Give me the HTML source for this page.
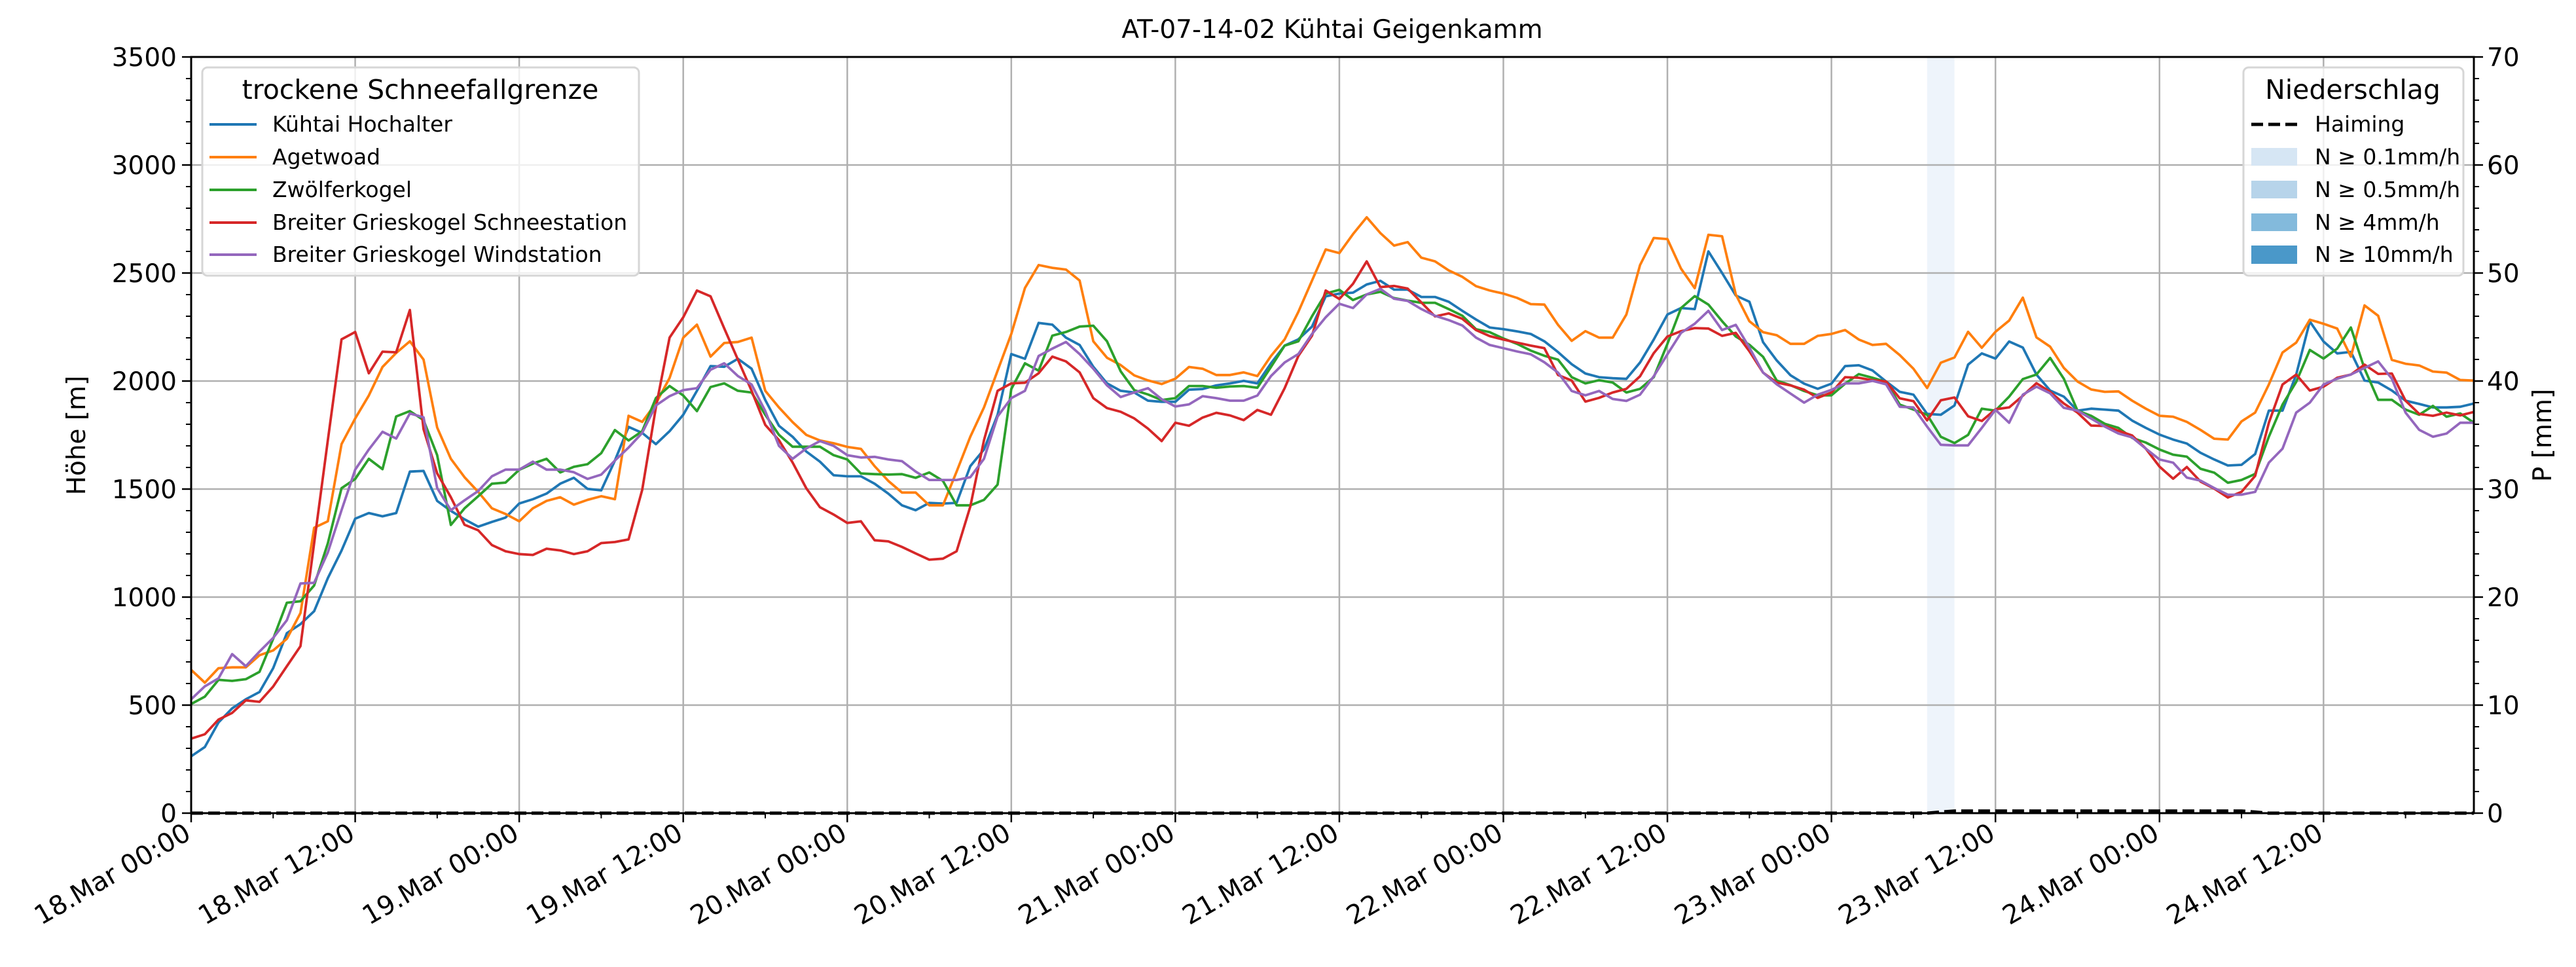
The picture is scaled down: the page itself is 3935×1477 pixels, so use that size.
<!DOCTYPE html>
<html><head><meta charset="utf-8"><style>
html,body{margin:0;padding:0;background:#fff;}
svg{display:block;font-family:"DejaVu Sans","Liberation Sans",sans-serif;}
</style></head><body>
<svg id="chart" width="3935" height="1477" viewBox="0 0 3935 1477" xmlns="http://www.w3.org/2000/svg">
<rect width="3935" height="1477" fill="#fff"/>
<g id="bands"></g>
<g id="grid"></g>
<g id="series"></g>
<g id="axes"></g>
<text x="2035" y="58" font-size="39" text-anchor="middle">AT-07-14-02 Kühtai Geigenkamm</text>
<text transform="translate(130,665) rotate(-90)" font-size="39" text-anchor="middle">Höhe [m]</text>
<text transform="translate(3897,665) rotate(-90)" font-size="39" text-anchor="middle">P [mm]</text>
<g>
<rect x="309" y="103" width="667" height="318" rx="8" fill="#fff" fill-opacity="0.8" stroke="#d6d6d6" stroke-width="3"/>
<text x="642" y="151" font-size="41" text-anchor="middle">trockene Schneefallgrenze</text>
<g><line x1="320" y1="190" x2="392" y2="190" stroke="#1f77b4" stroke-width="4"/><text x="416" y="201" font-size="33">Kühtai Hochalter</text></g>
<g><line x1="320" y1="240" x2="392" y2="240" stroke="#ff7f0e" stroke-width="4"/><text x="416" y="251" font-size="33">Agetwoad</text></g>
<g><line x1="320" y1="290" x2="392" y2="290" stroke="#2ca02c" stroke-width="4"/><text x="416" y="301" font-size="33">Zwölferkogel</text></g>
<g><line x1="320" y1="340" x2="392" y2="340" stroke="#d62728" stroke-width="4"/><text x="416" y="351" font-size="33">Breiter Grieskogel Schneestation</text></g>
<g><line x1="320" y1="389" x2="392" y2="389" stroke="#9467bd" stroke-width="4"/><text x="416" y="400" font-size="33">Breiter Grieskogel Windstation</text></g>
</g>
<g>
<rect x="3427" y="103" width="336" height="318" rx="8" fill="#fff" fill-opacity="0.8" stroke="#d6d6d6" stroke-width="3"/>
<text x="3594" y="151" font-size="41" text-anchor="middle">Niederschlag</text>
<g><line x1="3439" y1="190" x2="3509" y2="190" stroke="#000" stroke-width="5" stroke-dasharray="18,8"/><text x="3536" y="201" font-size="33">Haiming</text></g>
<g><rect x="3439" y="226" width="70" height="27" fill="#d6e6f4"/><text x="3536" y="251" font-size="33">N ≥ 0.1mm/h</text></g>
<g><rect x="3439" y="276" width="70" height="27" fill="#b7d4ea"/><text x="3536" y="301" font-size="33">N ≥ 0.5mm/h</text></g>
<g><rect x="3439" y="326" width="70" height="27" fill="#83badc"/><text x="3536" y="351" font-size="33">N ≥ 4mm/h</text></g>
<g><rect x="3439" y="375" width="70" height="28" fill="#4a98c9"/><text x="3536" y="400" font-size="33">N ≥ 10mm/h</text></g>
</g>
</svg>
<script>
const hochalter = [263,306,420,485,527,561,671,833,875,935,1088,1215,1363,1389,1374,1389,1581,1584,1445,1399,1360,1326,1348,1368,1433,1453,1479,1525,1552,1501,1494,1632,1788,1760,1708,1768,1844,1955,2069,2066,2103,2057,1912,1793,
1742,1674,1627,1564,1559,1559,1525,1479,1425,1402,1436,1433,1436,1606,1683,1844,2125,2103,2269,2261,2201,2167,2066,1989,1955,1947,1909,1904,1904,1960,1963,1980,1989,2001,1989,2082,2164,2193,2252,2392,2405,2409,
2447,2464,2423,2423,2389,2389,2367,2325,2285,2248,2240,2230,2218,2184,2134,2078,2035,2018,2013,2010,2086,2192,2308,2338,2333,2600,2500,2396,2367,2180,2095,2027,1988,1964,1988,2069,2073,2049,1998,
1950,1937,1848,1844,1887,2076,2128,2104,2183,2155,2030,1956,1928,1863,1872,1868,1863,1817,1783,1752,1729,1711,1668,1637,1609,1612,1662,1863,1863,2030,2276,2183,2128,2135,2002,1993,1956,1909,1894,1878,1878,1881,1896];
const agetwoad = [663,604,671,675,675,731,753,807,926,1321,1351,1708,1827,1933,2065,2130,2184,2099,1785,1640,1555,1487,1411,1385,1351,1411,1445,1462,1428,1450,1467,1453,1839,1811,1896,2014,2201,2261,2113,2176,2181,2201,1955,1878,
1810,1751,1725,1712,1695,1686,1606,1538,1484,1484,1425,1425,1581,1742,1878,2048,2218,2431,2537,2524,2516,2465,2184,2108,2074,2026,2003,1986,2011,2065,2057,2028,2028,2040,2023,2116,2193,2320,2465,2609,2592,2680,
2758,2685,2627,2643,2571,2554,2512,2482,2439,2419,2405,2385,2356,2354,2260,2186,2231,2201,2201,2308,2537,2662,2657,2520,2430,2677,2670,2401,2277,2226,2212,2172,2172,2209,2218,2236,2192,2167,2172,
2120,2057,1968,2085,2109,2228,2154,2228,2280,2386,2202,2159,2061,1998,1961,1950,1952,1909,1872,1839,1835,1811,1774,1733,1729,1813,1854,1984,2132,2178,2284,2265,2243,2113,2350,2302,2098,2080,2072,2044,2039,2005,2002];
const zwoelferkogel = [505,539,617,612,620,654,807,974,981,1054,1249,1504,1547,1640,1592,1836,1861,1819,1657,1334,1411,1467,1525,1530,1589,1618,1640,1577,1603,1615,1666,1773,1725,1768,1921,1977,1933,1861,1972,1989,1955,1947,1844,1751,
1696,1696,1696,1657,1637,1572,1569,1567,1569,1552,1577,1538,1425,1425,1450,1521,1963,2082,2048,2210,2227,2252,2256,2184,2045,1958,1938,1912,1921,1977,1977,1969,1975,1977,1969,2065,2164,2184,2300,2405,2422,2375,
2401,2413,2384,2372,2362,2362,2333,2302,2240,2226,2197,2172,2141,2117,2099,2018,1989,2004,1993,1947,1964,2018,2172,2338,2393,2354,2277,2206,2168,2112,2002,1981,1954,1934,1934,1988,2032,2015,1996,
1891,1868,1844,1742,1713,1751,1872,1863,1928,2009,2030,2107,2011,1863,1839,1802,1783,1737,1715,1683,1659,1650,1594,1576,1529,1542,1570,1742,1891,1996,2144,2104,2150,2248,2057,1913,1913,1868,1844,1885,1835,1850,1807];
const schneestation = [345,365,433,464,522,515,586,680,773,1250,1726,2193,2227,2036,2136,2133,2329,1777,1573,1462,1335,1309,1241,1212,1199,1195,1224,1216,1199,1212,1250,1255,1267,1496,1878,2201,2295,2419,2392,2244,2099,1955,1797,1726,
1623,1504,1416,1382,1343,1351,1263,1258,1232,1202,1173,1178,1212,1419,1726,1955,1989,1992,2036,2113,2091,2040,1921,1875,1858,1827,1780,1722,1807,1793,1831,1853,1841,1819,1866,1844,1967,2116,2210,2419,2380,2450,
2554,2435,2440,2428,2364,2299,2313,2288,2236,2208,2192,2178,2164,2152,2028,2002,1905,1922,1947,1964,2022,2129,2206,2231,2245,2243,2209,2223,2138,2039,1993,1980,1960,1922,1947,2018,2015,2004,1998,
1920,1907,1818,1911,1924,1837,1815,1869,1878,1932,1990,1950,1896,1854,1794,1792,1770,1748,1687,1604,1548,1602,1535,1502,1461,1487,1561,1807,1984,2030,1956,1974,2015,2030,2076,2033,2035,1909,1848,1839,1854,1841,1857];
const windstation = [527,587,624,736,680,748,811,893,1063,1066,1207,1402,1590,1683,1765,1734,1850,1832,1505,1402,1448,1491,1559,1590,1590,1627,1590,1590,1578,1547,1567,1632,1692,1760,1887,1930,1958,1967,2052,2082,2023,1984,1861,1700,
1640,1688,1722,1700,1657,1646,1649,1637,1629,1581,1542,1542,1542,1555,1640,1836,1921,1955,2116,2150,2181,2125,2057,1980,1926,1947,1967,1916,1882,1892,1930,1921,1909,1909,1933,2023,2086,2125,2218,2295,2358,2338,
2401,2427,2381,2371,2333,2302,2282,2257,2201,2167,2152,2137,2124,2087,2039,1954,1934,1954,1917,1908,1937,2022,2124,2223,2265,2325,2236,2260,2155,2039,1985,1942,1900,1937,1959,1989,1989,2001,1985,
1881,1878,1789,1705,1702,1702,1783,1867,1807,1937,1974,1943,1876,1863,1826,1789,1757,1739,1687,1637,1622,1553,1539,1505,1474,1474,1487,1622,1687,1854,1900,1984,2011,2030,2061,2091,2011,1854,1774,1742,1757,1807,1807];
const haiming = [0,0,0,0,0,0,0,0,0,0,0,0,0,0,0,0,0,0,0,0,0,0,0,0,0,0,0,0,0,0,0,0,0,0,0,0,0,0,0,0,0,0,0,0,
0,0,0,0,0,0,0,0,0,0,0,0,0,0,0,0,0,0,0,0,0,0,0,0,0,0,0,0,0,0,0,0,0,0,0,0,0,0,0,0,0,0,
0,0,0,0,0,0,0,0,0,0,0,0,0,0,0,0,0,0,0,0,0,0,0,0,0,0,0,0,0,0,0,0,0,0,0,0,0,0,0,
0,0,0,0.1,0.2,0.2,0.2,0.2,0.2,0.2,0.2,0.2,0.2,0.2,0.2,0.2,0.2,0.2,0.2,0.2,0.2,0.2,0.2,0.2,0.2,0.2,0.1,0,0,0,0,0,0,0,0,0,0,0,0,0,0,0,0];
const bandStart = [127];
const bandEnd = [129];
const yTicks = [0,500,1000,1500,2000,2500,3000,3500];
const y2Ticks = [0,10,20,30,40,50,60,70];
const xTickLabels = ["18.Mar 00:00","18.Mar 12:00","19.Mar 00:00","19.Mar 12:00","20.Mar 00:00","20.Mar 12:00","21.Mar 00:00","21.Mar 12:00","22.Mar 00:00","22.Mar 12:00","23.Mar 00:00","23.Mar 12:00","24.Mar 00:00","24.Mar 12:00"];

const NS="http://www.w3.org/2000/svg";
const L=292,R=3779,T=87,B=1242,NH=167;
function xs(h){return L+h*(R-L)/NH;}
function yl(v){return B-v*(B-T)/3500;}
function yr(p){return B-p*(B-T)/70;}
function mk(tag,attrs,parent){const e=document.createElementNS(NS,tag);for(const k in attrs)e.setAttribute(k,attrs[k]);parent.appendChild(e);return e;}
const gB=document.getElementById('bands'),gG=document.getElementById('grid'),gS=document.getElementById('series'),gA=document.getElementById('axes');

bandStart.forEach((s,i)=>{
  const r=mk('rect',{x:xs(s),y:T,width:xs(bandEnd[i])-xs(s),height:B-T,fill:'#eef4fb'},gB);
  
  
});
xTickLabels.forEach((lab,i)=>{
  const x=xs(i*12);
  const l=mk('line',{x1:x,y1:T,x2:x,y2:B,stroke:'#b0b0b0','stroke-width':2.5},gG);
  
  
});
yTicks.forEach(v=>{
  const y=yl(v);
  const l=mk('line',{x1:L,y1:y,x2:R,y2:y,stroke:'#b0b0b0','stroke-width':2.5},gG);
  
  
});

const seriesList=[[hochalter,'#1f77b4','series-kuehtai-hochalter'],[agetwoad,'#ff7f0e','series-agetwoad'],[zwoelferkogel,'#2ca02c','series-zwoelferkogel'],[schneestation,'#d62728','series-schneestation'],[windstation,'#9467bd','series-windstation']];
seriesList.forEach(s=>{
  const d=s[0].map((v,i)=>(i?'L':'M')+xs(i).toFixed(1)+' '+yl(v).toFixed(1)).join(' ');
  const p=mk('path',{d:d,fill:'none',stroke:s[1],'stroke-width':3.8,'stroke-linejoin':'round'},gS);
  
  
});
const pd=haiming.map((v,i)=>(i?'L':'M')+xs(i).toFixed(1)+' '+yr(v).toFixed(1)).join(' ');
const hp=mk('path',{d:pd,fill:'none',stroke:'#000','stroke-width':5,'stroke-dasharray':'18,8'},gS);



const fr=mk('rect',{x:L,y:T,width:R-L,height:B-T,fill:'none',stroke:'#000','stroke-width':3},gA);



for(let v=0;v<=3500;v+=100){
  const y=yl(v),major=v%500===0;
  mk('line',{x1:L-(major?14:8),y1:y,x2:L,y2:y,stroke:'#000','stroke-width':major?2.5:2},gA);
}
yTicks.forEach(v=>{
  const t=mk('text',{x:L-22,y:yl(v)+14,'font-size':39,'text-anchor':'end'},gA);
  t.textContent=v;
  
  
});
for(let p=0;p<=70;p+=2){
  const y=yr(p),major=p%10===0;
  mk('line',{x1:R,y1:y,x2:R+(major?14:8),y2:y,stroke:'#000','stroke-width':major?2.5:2},gA);
}
y2Ticks.forEach(p=>{
  const t=mk('text',{x:R+20,y:yr(p)+14,'font-size':39,'text-anchor':'start'},gA);
  t.textContent=p;
  
  
});
for(let h=0;h<=NH;h+=6){
  const x=xs(h),major=h%12===0;
  mk('line',{x1:x,y1:B,x2:x,y2:B+(major?14:8),stroke:'#000','stroke-width':major?2.5:2},gA);
}
xTickLabels.forEach((lab,i)=>{
  const x=xs(i*12);
  const t=mk('text',{transform:'translate('+(x+2)+','+(B+38)+') rotate(-30)','font-size':40,'text-anchor':'end'},gA);
  t.textContent=lab;
  
  
});
</script>
</body></html>
